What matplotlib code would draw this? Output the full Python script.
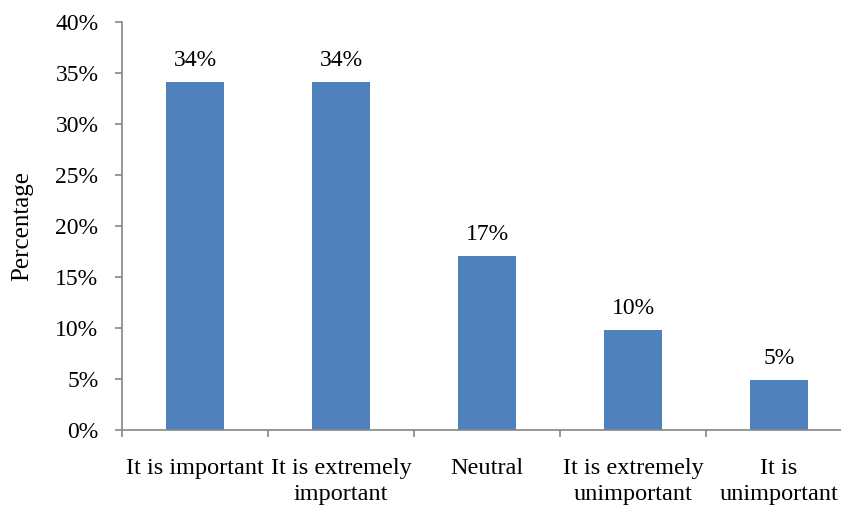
import matplotlib.pyplot as plt
import numpy as np

plt.rcParams['font.family'] = ['Liberation Serif', 'DejaVu Serif']

# Data
categories = ['It is important', 'It is extremely\nimportant', 'Neutral',
              'It is extremely\nunimportant', 'It is\nunimportant']
values = [34.1, 34.1, 17.1, 9.8, 4.9]
value_labels = ['34%', '34%', '17%', '10%', '5%']
y_ticks = [0, 5, 10, 15, 20, 25, 30, 35, 40]

bar_color = '#4F81BD'
axis_color = '#868686'

fig = plt.figure(figsize=(8.41, 5.08), dpi=100)
ax = fig.add_axes([0.1451, 0.1535, 0.868, 0.803])

x = np.arange(len(categories))
bars = ax.bar(x, values, width=0.4, color=bar_color, zorder=2)

for rect, lab in zip(bars, value_labels):
    ax.annotate(lab, (rect.get_x() + rect.get_width() / 2, rect.get_height()),
                xytext=(0, 8), textcoords='offset points',
                ha='center', va='bottom', fontsize=17)

ax.set_xlim(-0.5, len(categories) - 0.5)
ax.set_ylim(0, 40)
ax.set_yticks(y_ticks)
ax.set_yticklabels([f'{t}%' for t in y_ticks], fontsize=17)

# category labels centred, ticks at category boundaries
ax.set_xticks(x)
ax.set_xticklabels(categories, fontsize=17.5, linespacing=1.3)
ax.tick_params(axis='x', which='major', length=0, pad=20)
ax.set_xticks(np.arange(len(categories) + 1) - 0.5, minor=True)
ax.tick_params(axis='x', which='minor', length=5, color=axis_color, width=1.2)
ax.tick_params(axis='y', length=5, color=axis_color, width=1.2, pad=12)

for s in ['top', 'right']:
    ax.spines[s].set_visible(False)
for s in ['left', 'bottom']:
    ax.spines[s].set_color(axis_color)
    ax.spines[s].set_linewidth(1.2)

ax.set_ylabel('Percentage', fontsize=18, labelpad=16)

fig.savefig('out.png', dpi=100)
